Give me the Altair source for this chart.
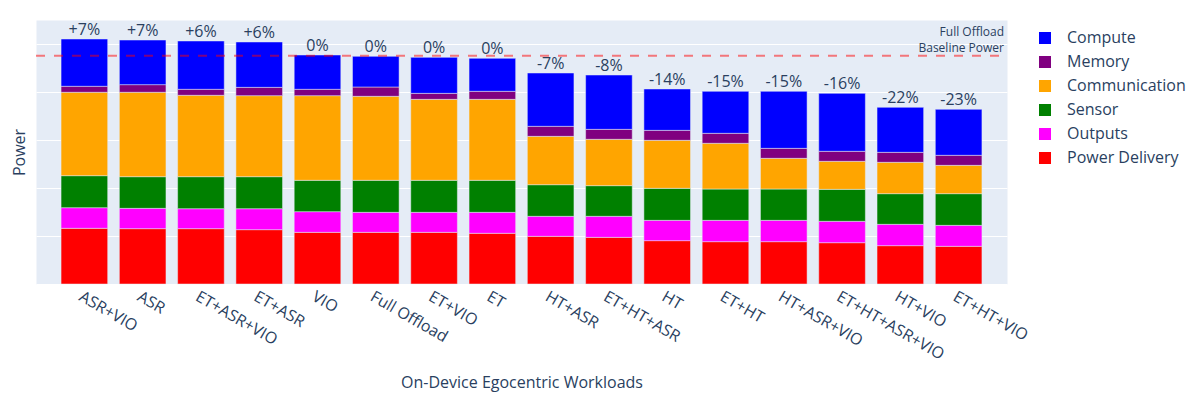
import altair as alt
import pandas as pd

categories = ["ASR+VIO", "ASR", "ET+ASR+VIO", "ET+ASR", "VIO", "Full Offload", "ET+VIO", "ET",
              "HT+ASR", "ET+HT+ASR", "HT", "ET+HT", "HT+ASR+VIO", "ET+HT+ASR+VIO", "HT+VIO", "ET+HT+VIO"]

power_delivery = [1.160, 1.153, 1.153, 1.132, 1.076, 1.076, 1.076, 1.056, 0.993, 0.972, 0.903, 0.882, 0.882, 0.861, 0.799, 0.785]
outputs = [0.430, 0.423, 0.416, 0.437, 0.431, 0.417, 0.417, 0.437, 0.417, 0.438, 0.423, 0.444, 0.444, 0.445, 0.444, 0.437]
sensor = [0.667, 0.660, 0.667, 0.667, 0.653, 0.667, 0.667, 0.667, 0.659, 0.639, 0.667, 0.653, 0.653, 0.666, 0.639, 0.660]
communication = [1.737, 1.758, 1.695, 1.688, 1.764, 1.750, 1.687, 1.687, 1.007, 0.965, 1.000, 0.952, 0.639, 0.584, 0.653, 0.590]
memory = [0.125, 0.159, 0.125, 0.173, 0.132, 0.194, 0.125, 0.167, 0.209, 0.208, 0.208, 0.208, 0.208, 0.208, 0.208, 0.209]
compute = [0.985, 0.930, 1.007, 0.945, 0.715, 0.639, 0.750, 0.688, 1.111, 1.132, 0.862, 0.875, 1.188, 1.208, 0.938, 0.958]

change_labels = ["+7%", "+7%", "+6%", "+6%", "0%", "0%", "0%", "0%",
                 "-7%", "-8%", "-14%", "-15%", "-15%", "-16%", "-22%", "-23%"]

baseline_power = 4.756
baseline_text = "Full Offload\nBaseline Power"

series_names = ["Power Delivery", "Outputs", "Sensor", "Communication", "Memory", "Compute"]
series_values = [power_delivery, outputs, sensor, communication, memory, compute]
legend_order = ["Compute", "Memory", "Communication", "Sensor", "Outputs", "Power Delivery"]
legend_colors = ["#0000ff", "#800080", "#ffa500", "#008000", "#ff00ff", "#ff0000"]

rows = []
for si, (name, vals) in enumerate(zip(series_names, series_values)):
    for cat, v in zip(categories, vals):
        rows.append({"workload": cat, "component": name, "power": v, "stack": si})
df = pd.DataFrame(rows)

totals = [sum(s[i] for s in series_values) for i in range(len(categories))]
df_tot = pd.DataFrame({"workload": categories, "total": totals, "label": change_labels})
df_base = pd.DataFrame({"baseline": [baseline_power], "text": [baseline_text]})

TXT = "#2a3f5f"
FONT = "Open Sans"

xenc = alt.X("workload:N", sort=categories,
             scale=alt.Scale(paddingInner=0.2, paddingOuter=0.43),
             axis=alt.Axis(title="On-Device Egocentric Workloads", labelAngle=30, labelAlign="left",
                           labelBaseline="top", labelPadding=4, labelFontSize=16, labelColor=TXT,
                           labelFont=FONT, labelOverlap=False, ticks=False, domain=False, grid=False,
                           titleFontSize=16, titleColor=TXT, titleFont=FONT, titleFontWeight="normal",
                           titleY=103, titleBaseline="alphabetic"))

yscale = alt.Scale(domain=[0, 5.5], nice=False)

bars = alt.Chart(df).mark_bar(stroke="#E5ECF6", strokeWidth=0.5).encode(
    x=xenc,
    y=alt.Y("power:Q", stack="zero", scale=yscale,
            axis=alt.Axis(title="Power", labels=False, ticks=False, domain=False,
                          values=[0, 1, 2, 3, 4, 5], gridColor="white", gridWidth=1,
                          titleFontSize=16, titleColor=TXT, titleFont=FONT, titleFontWeight="normal",
                          titleX=-12, titleY=132, titleBaseline="alphabetic")),
    color=alt.Color("component:N", scale=alt.Scale(domain=legend_order, range=legend_colors),
                    legend=alt.Legend(title=None, orient="none", legendX=1001, legendY=10,
                                      symbolType="square", symbolSize=144, labelFontSize=16,
                                      labelColor=TXT, labelFont=FONT, labelOffset=14, rowPadding=8,
                                      symbolStrokeWidth=0)),
    order=alt.Order("stack:Q", sort="ascending"),
)

labels = alt.Chart(df_tot).mark_text(fontSize=16, color=TXT, font=FONT, baseline="alphabetic", dy=-4).encode(
    x=alt.X("workload:N", sort=categories),
    y=alt.Y("total:Q", scale=yscale),
    text="label:N",
)

rule = alt.Chart(df_base).mark_rule(color="red", strokeOpacity=0.5, strokeWidth=2, strokeDash=[9, 9]).encode(
    y=alt.Y("baseline:Q", scale=yscale),
    x=alt.value(0),
    x2=alt.value(971),
)

note = alt.Chart(df_base).mark_text(fontSize=12, color=TXT, font=FONT, align="right",
                                    baseline="alphabetic", lineBreak="\n", lineHeight=15.6).encode(
    x=alt.value(968),
    y=alt.value(16),
    text="text:N",
)

chart = alt.layer(bars, labels, rule, note).properties(
    width=971, height=264,
    autosize=alt.AutoSizeParams(type="none"),
    padding={"left": 28, "top": 12, "right": 185, "bottom": 108},
    background="white",
).configure_view(fill="#E5ECF6", stroke="transparent")

chart.save("out.html", embed_options={"renderer": "svg", "actions": False})
